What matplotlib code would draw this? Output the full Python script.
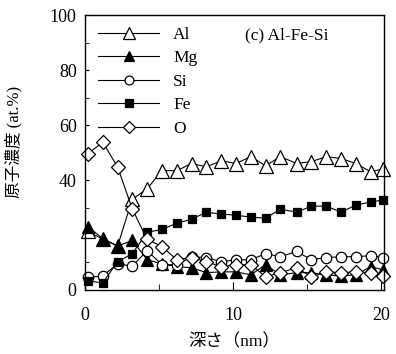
import matplotlib
matplotlib.use("Agg")
import matplotlib.pyplot as plt
from matplotlib.ticker import FixedLocator, MultipleLocator

plt.rcParams["font.family"] = ["Liberation Serif", "Noto Sans CJK JP"]

# depth (nm)
depth = [0.2, 1.2, 2.2, 3.2, 4.2, 5.2, 6.2, 7.2, 8.2, 9.2, 10.2,
         11.2, 12.2, 13.2, 14.3, 15.3, 16.3, 17.3, 18.3, 19.3, 20.1]

al = [21.3, 18.5, 16.0, 33.0, 36.8, 43.4, 43.4, 46.0, 44.8, 47.0, 46.0,
      48.5, 45.2, 48.5, 46.0, 46.7, 48.5, 47.8, 46.0, 43.0, 44.0]
mg = [23.0, 18.7, 16.0, 18.0, 11.0, 9.5, 8.5, 8.1, 6.3, 6.6, 6.6,
      5.5, 9.2, 5.5, 6.3, 6.3, 5.5, 5.1, 5.5, 8.5, 7.4]
si = [4.6, 5.1, 9.5, 8.7, 14.3, 9.2, 9.2, 12.1, 11.8, 10.3, 11.0,
      11.0, 13.2, 12.1, 14.0, 11.0, 11.8, 12.1, 12.1, 12.5, 11.8]
fe = [3.3, 2.6, 10.3, 13.2, 21.0, 22.0, 24.3, 25.7, 28.3, 27.6, 27.2,
      26.5, 26.1, 29.4, 28.3, 30.5, 30.5, 28.3, 30.9, 32.0, 32.7]
o = [49.6, 53.7, 44.8, 29.4, 18.4, 15.8, 11.0, 11.8, 10.3, 8.5, 9.2,
     9.2, 4.8, 6.3, 8.1, 4.8, 6.6, 6.3, 6.6, 6.3, 5.1]

SERIES = [
    ("Al", al, "^", "white", 10.5),
    ("Mg", mg, "^", "black", 9),
    ("Si", si, "o", "white", 7.5),
    ("Fe", fe, "s", "black", 6),
    ("O", o, "D", "white", 7.5),
]

fig = plt.figure(figsize=(3.96, 3.54), dpi=100)
ax = fig.add_axes([0.2146, 0.1808, 0.7551, 0.7768])

handles = []
for name, vals, marker, face, ms in SERIES:
    (h,) = ax.plot(depth, vals, color="black", linewidth=0.8, marker=marker,
                   markersize=ms, markerfacecolor=face, markeredgecolor="black",
                   markeredgewidth=0.9, label=name, clip_on=False)
    handles.append(h)

ax.set_xlim(0, 20.2)
ax.set_ylim(0, 100)

ax.xaxis.set_major_locator(FixedLocator([0, 10, 20]))
ax.xaxis.set_minor_locator(FixedLocator([5, 15]))
ax.yaxis.set_major_locator(FixedLocator([0, 20, 40, 60, 80, 100]))
ax.set_yticklabels(["0", "", "40", "60", "80", "100"])
ax.yaxis.set_minor_locator(MultipleLocator(10))

ax.tick_params(axis="both", which="both", direction="in", labelsize=13)
ax.tick_params(axis="x", which="major", length=6, pad=12)
ax.tick_params(axis="x", which="minor", length=4)
ax.tick_params(axis="y", which="both", length=3, pad=6)
for s in ax.spines.values():
    s.set_linewidth(1.0)

ax.set_xlabel("深さ（nm）", fontsize=12.5, labelpad=7)
ax.set_ylabel("原子濃度 (at.%)", fontsize=12)
ax.yaxis.set_label_coords(-0.21, 0.54)

ax.legend(handles=handles, loc="upper left", bbox_to_anchor=(0.01, 0.995),
          frameon=False, fontsize=12.5, handlelength=3.5, handletextpad=0.8,
          labelspacing=0.42, markerscale=0.85, borderaxespad=0.2)

ax.text(0.535, 0.925, "(c) Al-Fe-Si", transform=ax.transAxes, fontsize=12.5,
        ha="left", va="center")

fig.savefig("out.png", dpi=100)
